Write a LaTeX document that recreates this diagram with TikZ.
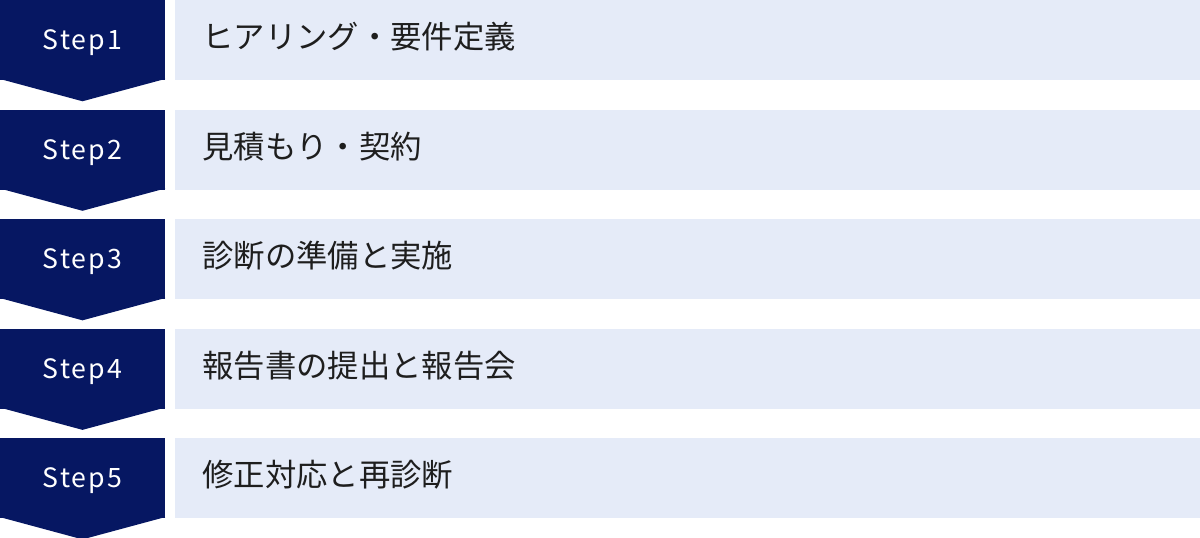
\documentclass[tikz,border=0pt]{standalone}
\usepackage{fontspec}
\setmainfont{Noto Sans CJK JP}
\usetikzlibrary{positioning}
\usetikzlibrary{calc}
\definecolor{stepnavy}{HTML}{061762}
\definecolor{tasklight}{HTML}{E5EBF8}
\definecolor{taskink}{HTML}{1E1E1E}

\begin{document}
\begin{tikzpicture}[
    node distance=21.75pt,
    % node styles
    stepbox/.style = {
      fill=stepnavy,
      draw=none,
      minimum width=123.75pt,
      minimum height=60pt,
      inner sep=0pt,
      text height=14.6pt,
      text depth=0pt,
      font=\fontsize{20pt}{24pt}\selectfont\addfontfeature{LetterSpace=8},
      text=white
    },
    taskbox/.style = {
      fill=tasklight,
      draw=none,
      minimum width=769.5pt,
      minimum height=60pt,
      inner xsep=21pt,
      inner ysep=0pt,
      text width=727.5pt,
      text height=16pt,
      text depth=2.8pt,
      align=left,
      font=\fontsize{23.5pt}{28pt}\selectfont,
      text=taskink
    },
    % tip under each step
    tip/.style = {fill=stepnavy, draw=none}
  ]
  \useasboundingbox (0,0) rectangle (900pt,-403.5pt);

  % --- Step labels
  \node[stepbox] (step1) at (61.875pt,-30pt) {Step1};
  \node[stepbox, below=of step1] (step2) {Step2};
  \node[stepbox, below=of step2] (step3) {Step3};
  \node[stepbox, below=of step3] (step4) {Step4};
  \node[stepbox, below=of step4] (step5) {Step5};

  % --- Tasks
  \node[taskbox, right=6.75pt of step1] (task1) {ヒアリング・要件定義};
  \node[taskbox, right=6.75pt of step2] (task2) {見積もり・契約};
  \node[taskbox, right=6.75pt of step3] (task3) {診断の準備と実施};
  \node[taskbox, right=6.75pt of step4] (task4) {報告書の提出と報告会};
  \node[taskbox, right=6.75pt of step5] (task5) {修正対応と再診断};

  % --- Tips (start a little inside the box so no seam shows)
  \path[tip] ($(step1.south west)+(0,1pt)$) -- ($(step1.south east)+(0,1pt)$) -- ($(step1.south)+(0,-15.75pt)$) -- cycle;
  \path[tip] ($(step2.south west)+(0,1pt)$) -- ($(step2.south east)+(0,1pt)$) -- ($(step2.south)+(0,-15.75pt)$) -- cycle;
  \path[tip] ($(step3.south west)+(0,1pt)$) -- ($(step3.south east)+(0,1pt)$) -- ($(step3.south)+(0,-15.75pt)$) -- cycle;
  \path[tip] ($(step4.south west)+(0,1pt)$) -- ($(step4.south east)+(0,1pt)$) -- ($(step4.south)+(0,-15.75pt)$) -- cycle;
  \path[tip] ($(step5.south west)+(0,1pt)$) -- ($(step5.south east)+(0,1pt)$) -- ($(step5.south)+(0,-15.75pt)$) -- cycle;

\end{tikzpicture}
\end{document}
